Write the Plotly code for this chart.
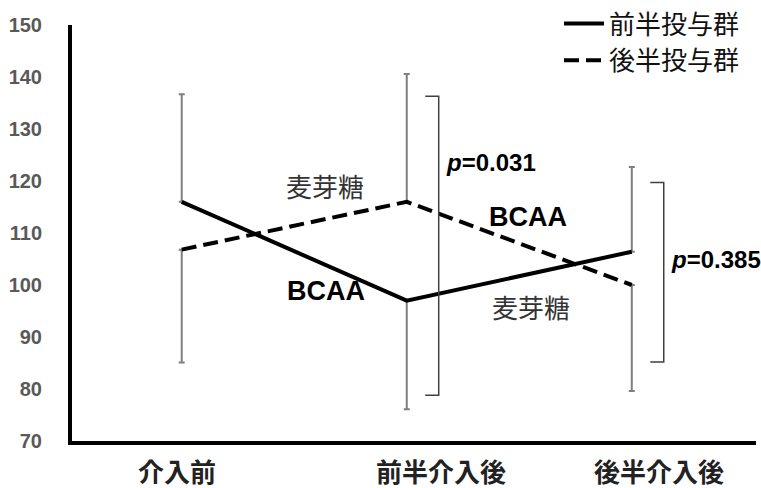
import plotly.graph_objects as go

# ---- data ----
categories = ["介入前", "前半介入後", "後半介入後"]
series_names = ["前半投与群", "後半投与群"]
early_mean = [116.0, 97.0, 106.4]     # 前半投与群 (solid)
late_mean = [106.8, 116.0, 100.0]     # 後半投与群 (dashed)
early_sd = [20.7, 20.9, 16.3]
late_sd = [21.7, 24.6, 20.4]
early_sd_up = [True, False, True]     # error bar direction for the solid series
late_sd_up = [False, True, False]

# significance brackets (after-phase comparisons)
bracket_idx = [1, 2]
bracket_top = [136.3, 119.7]
bracket_bottom = [78.8, 85.2]
p_values = ["0.031", "0.385"]
p_label_y = [123.5, 105.0]

# in-plot treatment labels: (text, x, y, bold)
treat_labels = [("麦芽糖", 0.637, 119.2, False), ("BCAA", 0.641, 98.9, True),
                ("BCAA", 1.54, 113.0, True), ("麦芽糖", 1.553, 95.8, False)]

yticks = [70, 80, 90, 100, 110, 120, 130, 140, 150]
xlabel_offset = [-0.02, 0.15, 0.12]

x = list(range(len(categories)))
CJK = "Noto Sans CJK JP"
LAT = "Liberation Sans, Arial"

fig = go.Figure()

def err_arrays(sd, up):
    plus = [s if u else 0 for s, u in zip(sd, up)]
    minus = [0 if u else s for s, u in zip(sd, up)]
    return plus, minus

for mean, sd, up in [(early_mean, early_sd, early_sd_up), (late_mean, late_sd, late_sd_up)]:
    plus, minus = err_arrays(sd, up)
    fig.add_trace(go.Scatter(
        x=x, y=mean, mode="markers", marker=dict(size=1, opacity=0),
        showlegend=False, hoverinfo="skip",
        error_y=dict(type="data", symmetric=False, array=plus, arrayminus=minus,
                     color="#7f7f7f", thickness=2, width=3)))

fig.add_trace(go.Scatter(x=x, y=early_mean, mode="lines", name=series_names[0],
                         line=dict(color="black", width=4)))
fig.add_trace(go.Scatter(x=x, y=late_mean, mode="lines", name=series_names[1],
                         line=dict(color="black", width=4, dash="15px,7px")))

# brackets
for i, top, bot, p, py in zip(bracket_idx, bracket_top, bracket_bottom, p_values, p_label_y):
    x0, x1 = i + 0.082, i + 0.142
    fig.add_shape(type="path",
                  path=f"M {x0},{top} L {x1},{top} L {x1},{bot} L {x0},{bot}",
                  line=dict(color="#404040", width=1.5), xref="x", yref="y")
    fig.add_annotation(x=i + 0.165, y=py,
                       text=f"<b><i>p</i>=" + p + "</b>", showarrow=False,
                       xanchor="left", yanchor="middle",
                       font=dict(family=LAT, size=24, color="black"))

for text, tx, ty, bold in treat_labels:
    fig.add_annotation(x=tx, y=ty, text=f"<b>{text}</b>" if bold else text,
                       showarrow=False, xanchor="center", yanchor="middle",
                       font=dict(family=LAT if bold else CJK, size=27 if bold else 26,
                                 color="black" if bold else "#333333"))

for i, cat in enumerate(categories):
    fig.add_annotation(x=i + xlabel_offset[i], y=-0.07, xref="x", yref="paper",
                       text=f"<b>{cat}</b>", showarrow=False,
                       xanchor="center", yanchor="middle",
                       font=dict(family=CJK, size=26, color="#222222"))

fig.update_layout(
    width=761, height=488,
    margin=dict(l=72, r=5, t=25, b=47, autoexpand=False),
    paper_bgcolor="white", plot_bgcolor="white",
    showlegend=True,
    legend=dict(x=0.712, y=1.0, xref="paper", yref="container",
                xanchor="left", yanchor="top",
                font=dict(family=CJK, size=26, color="#111111"),
                bgcolor="rgba(0,0,0,0)", itemwidth=40, tracegroupgap=0),
    xaxis=dict(range=[-0.4876, 2.552], showgrid=False, zeroline=False,
               showline=True, linecolor="black", linewidth=4,
               showticklabels=False, ticks=""),
    yaxis=dict(range=[70, 150], tickvals=yticks, showgrid=False, zeroline=False,
               showline=True, linecolor="black", linewidth=4, ticks="",
               ticklabelstandoff=22,
               tickfont=dict(family=LAT, size=20, color="#595959", weight="bold")),
)

fig.write_html("out.html")
